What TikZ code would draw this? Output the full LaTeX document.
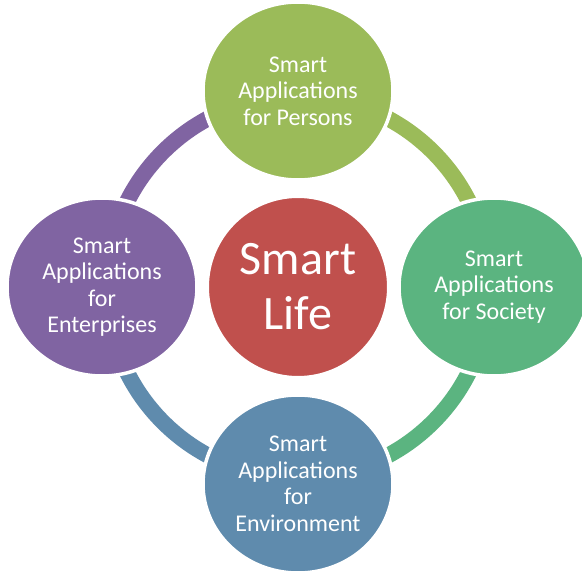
\documentclass[tikz,border=0pt]{standalone}
\usepackage{fontspec}
\setmainfont{Carlito}
\usetikzlibrary{shapes.geometric}
\definecolor{cgreen}{HTML}{9BBB59}
\definecolor{cpurple}{HTML}{8064A2}
\definecolor{cred}{HTML}{C0504D}
\definecolor{cteal}{HTML}{5BB480}
\definecolor{cblue}{HTML}{5F8BAD}
\begin{document}
\begin{tikzpicture}[x=1pt,y=-1pt,
  outer/.style={ellipse, minimum width=190pt, minimum height=178pt, inner sep=0pt,
    draw=white, line width=3.5pt, text=white, align=center,
    font=\fontsize{24}{26.5}\selectfont},
  hub/.style={circle, minimum size=180pt, inner sep=0pt, draw=white, line width=2pt,
    fill=cred, text=white, align=center, font=\fontsize{48}{55}\selectfont},
  ring/.style={line width=16pt}]
\useasboundingbox (0,0) rectangle (582,573);
\clip (0,0) rectangle (582,573);
\coordinate (c) at (298,287);
% ring connectors
\draw[ring, cpurple] (c) ++(-191,0) arc[start angle=180, end angle=270, radius=191];
\draw[ring, cgreen] (c) ++(0,-191) arc[start angle=270, end angle=360, radius=191];
\draw[ring, cteal] (c) ++(191,0) arc[start angle=0, end angle=90, radius=191];
\draw[ring, cblue] (c) ++(0,191) arc[start angle=90, end angle=180, radius=191];
% nodes
\node[hub] (life) at (298,287) {Smart\\Life};
\node[outer, fill=cgreen] (persons) at (298,91) {Smart\\Applications\\for Persons};
\node[outer, fill=cteal] (society) at (494,287) {Smart\\Applications\\for Society};
\node[outer, fill=cblue] (environment) at (298,484) {Smart\\Applications\\for\\Environment};
\node[outer, fill=cpurple] (enterprises) at (102,287) {Smart\\Applications\\for\\Enterprises};
\end{tikzpicture}
\end{document}
